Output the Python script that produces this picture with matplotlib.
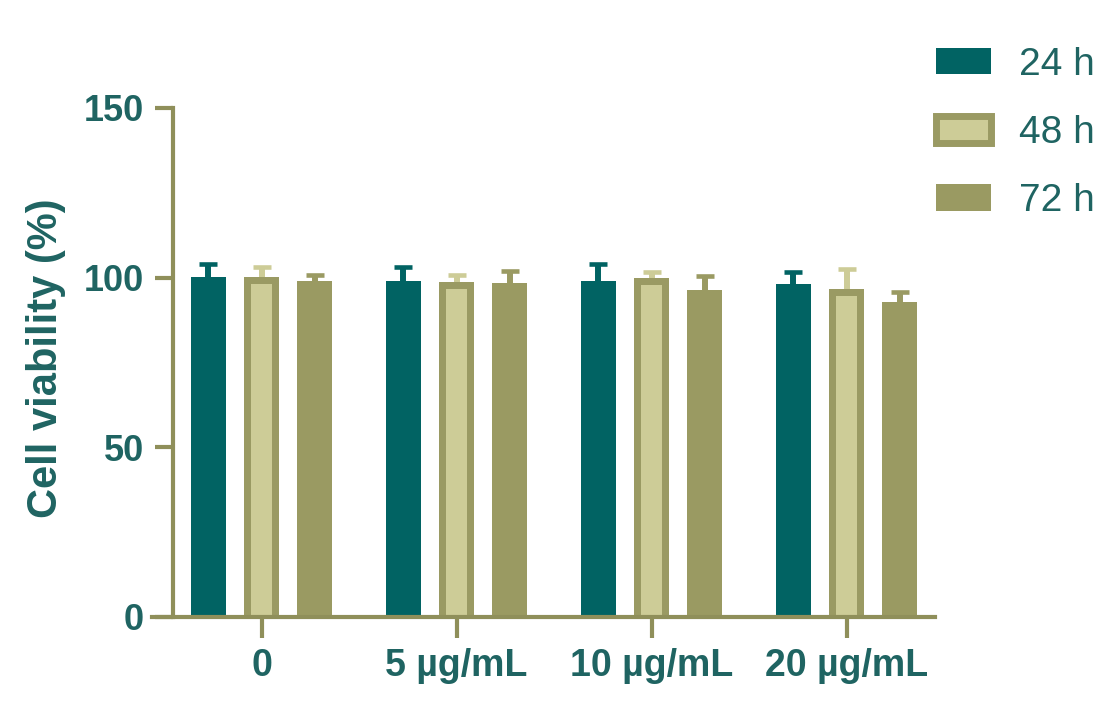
import matplotlib
matplotlib.use("Agg")
import matplotlib.pyplot as plt
from matplotlib.patches import Patch
import numpy as np

plt.rcParams['font.family'] = ['Liberation Sans', 'DejaVu Sans']

categories = ["0", "5 µg/mL", "10 µg/mL", "20 µg/mL"]
series_labels = ["24 h", "48 h", "72 h"]
means = {
    "24 h": [100.1, 99.0, 99.0, 98.0],
    "48 h": [100.1, 98.6, 99.8, 96.6],
    "72 h": [99.0, 98.3, 96.4, 92.9],
}
upper_err = {
    "24 h": [3.9, 4.1, 4.9, 3.6],
    "48 h": [3.0, 2.2, 1.8, 5.9],
    "72 h": [1.9, 3.8, 4.0, 2.8],
}
yticks = [0, 50, 100, 150]

TEXT = '#1f6462'
AXC = '#8f8f5a'
C24 = '#016363'
C48_EDGE = '#9a9a63'
C48_FILL = '#cdcc97'
C72 = '#9a9a62'

fig = plt.figure(figsize=(11.13, 7.02), dpi=100)
W, H = 1113, 702
ax = fig.add_axes([152 / W, (H - 617) / H, (935 - 152) / W, (617 - 108) / H])

x = np.arange(len(categories))
bw = 0.18
off = 0.272


def up_errbar(xpos, vals, errs, color):
    eb = ax.errorbar(xpos, vals, yerr=[np.zeros(len(vals)), errs], fmt='none',
                     ecolor=color, elinewidth=4.3, capsize=6.5, capthick=3.3, zorder=1)
    caps = eb[1]
    if len(caps) >= 2:
        caps[0].set_visible(False)
    return eb


# 24 h
ax.bar(x - off, means["24 h"], width=bw, color=C24, zorder=2)
up_errbar(x - off, means["24 h"], upper_err["24 h"], C24)
# 48 h (outlined)
ax.bar(x, means["48 h"], width=bw, color=C48_EDGE, zorder=2)
inner_h = np.array(means["48 h"]) - 2.0
ax.bar(x, inner_h, width=0.106, color=C48_FILL, zorder=2.1)
up_errbar(x, means["48 h"], upper_err["48 h"], C48_FILL)
# 72 h
ax.bar(x + off, means["72 h"], width=bw, color=C72, zorder=2)
up_errbar(x + off, means["72 h"], upper_err["72 h"], C72)

ax.set_xlim((152 - 261.5) / 195, (935 - 261.5) / 195)
ax.set_ylim(0, 150)

for s in ['top', 'right']:
    ax.spines[s].set_visible(False)
for s in ['left', 'bottom']:
    ax.spines[s].set_color(AXC)
    ax.spines[s].set_linewidth(3)
ax.spines['left'].set_position(('data', (173 - 261.5) / 195))

ax.set_yticks(yticks)
ax.set_yticklabels([str(v) for v in yticks])
ax.set_xticks(x)
ax.set_xticklabels(categories)
ax.tick_params(axis='y', length=13, width=3, color=AXC, pad=8, labelsize=26, labelcolor=TEXT)
ax.tick_params(axis='x', length=15, width=3, color=AXC, pad=7, labelsize=27, labelcolor=TEXT)
for lab in ax.get_xticklabels() + ax.get_yticklabels():
    lab.set_fontweight('bold')

ax.set_ylabel("Cell viability (%)", fontsize=30, fontweight='bold', color=TEXT)
ax.yaxis.set_label_coords((66 - 152) / (935 - 152), 0.509)

handles = [
    Patch(facecolor=C24, edgecolor=C24, linewidth=0),
    Patch(facecolor=C48_FILL, edgecolor=C48_EDGE, linewidth=5),
    Patch(facecolor=C72, edgecolor=C72, linewidth=0),
]
leg = fig.legend(handles, series_labels, loc='upper left',
                 bbox_to_anchor=(920 / W, 1 - 31 / H), frameon=False,
                 fontsize=28, handlelength=1.42, handleheight=0.68,
                 handletextpad=0.72, labelspacing=0.83, borderaxespad=0)
for t in leg.get_texts():
    t.set_color(TEXT)

fig.savefig("out.png", dpi=100)
